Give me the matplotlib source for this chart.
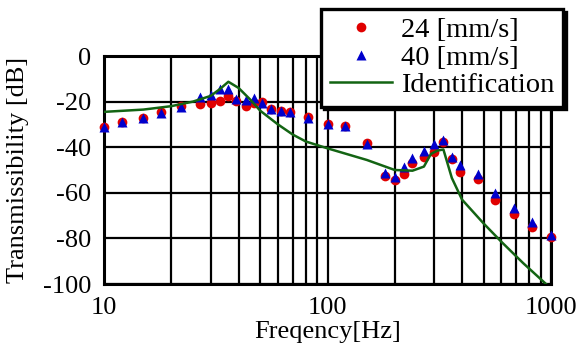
import numpy as np
import matplotlib
matplotlib.use("Agg")
import matplotlib.pyplot as plt
from matplotlib.ticker import FixedLocator, NullFormatter

# measured points (Hz, dB)
freq = [10, 12, 15, 18, 22, 27, 30, 33, 36, 39, 43, 47, 51, 56, 62, 68, 82,
        100, 120, 150, 180, 200, 220, 240, 270, 300, 330, 360, 390, 470,
        560, 680, 820, 1000]
tr_24 = [-31.0, -28.8, -27.0, -24.6, -21.9, -21.2, -20.8, -19.7, -17.5, -19.7,
         -22.0, -20.5, -20.2, -23.1, -24.1, -24.4, -26.9, -29.7, -30.6, -38.3,
         -52.6, -54.4, -51.8, -47.1, -44.4, -42.0, -37.6, -45.3, -50.7, -54.1,
         -63.2, -69.3, -74.9, -79.2]
tr_40 = [-31.3, -29.1, -27.3, -24.9, -22.2, -18.1, -17.1, -14.5, -14.5, -19.0,
         -19.3, -18.6, -20.4, -23.3, -24.3, -24.6, -27.1, -29.9, -30.8, -38.5,
         -51.2, -53.2, -48.5, -44.9, -41.5, -38.6, -36.8, -44.2, -47.8, -51.8,
         -60.2, -66.5, -72.8, -78.5]

# identified model curve
f_id = [10, 15, 20, 25, 30, 33, 36, 40, 45, 50, 60, 70, 80, 100, 150, 200,
        240, 270, 290, 310, 330, 360, 400, 500, 600, 750, 950]
tr_id = [-24.5, -23.5, -22.0, -20.0, -17.5, -14.5, -11.3, -14.0, -19.0, -24.0,
         -30.0, -34.5, -37.5, -40.5, -45.6, -50.0, -50.3, -48.5, -43.0, -41.5,
         -41.0, -53.5, -63.0, -73.5, -81.5, -90.8, -100.0]

plt.rcParams['font.family'] = ['Liberation Serif', 'DejaVu Serif']
plt.rcParams['font.size'] = 19
plt.rcParams['axes.unicode_minus'] = False

fig = plt.figure(figsize=(5.85, 3.54), dpi=100)
ax = fig.add_axes([0.1778, 0.1977, 0.9419 - 0.1778, 0.8418 - 0.1977])

ax.plot(freq, tr_24, 'o', color='#e00000', ms=7, mec='none',
        label='24 [mm/s]', clip_on=False, zorder=3)
ax.plot(freq, tr_40, '^', color='#0000cc', ms=7, mec='none',
        label='40 [mm/s]', clip_on=False, zorder=4)
ax.plot(f_id, tr_id, '-', color='#136413', lw=1.8,
        label='Identification', zorder=5)

ax.set_xscale('log')
ax.set_xlim(10, 1000)
ax.set_ylim(-100, 0)
ax.xaxis.set_major_locator(FixedLocator([10, 100, 1000]))
ax.set_xticklabels(['10', '100', '1000'])
ax.xaxis.set_minor_formatter(NullFormatter())
ax.set_yticks([0, -20, -40, -60, -80, -100])
ax.set_yticklabels(['0', '-20', '-40', '-60', '-80', '-100'])
ax.tick_params(which='both', length=0, pad=9)

ax.grid(True, which='both', axis='x', color='k', lw=1.6)
ax.grid(True, which='major', axis='y', color='k', lw=1.6)
ax.set_axisbelow(True)
for s in ax.spines.values():
    s.set_linewidth(2.2)

ax.set_xlabel('Freqency[Hz]', labelpad=2)
ax.set_ylabel('Transmissibility [dB]', labelpad=10)

leg = ax.legend(loc='upper right', bbox_to_anchor=(0.962, 0.975),
                bbox_transform=fig.transFigure, fancybox=False,
                framealpha=1, edgecolor='k', shadow={'color': 'k', 'alpha': 1},
                handlelength=2.2, handletextpad=0.3, labelspacing=0.05,
                borderpad=0.3, borderaxespad=0, markerscale=1.0,
                prop={'size': 20.5})
leg.get_frame().set_linewidth(2.4)

fig.savefig('out.png', dpi=100)
